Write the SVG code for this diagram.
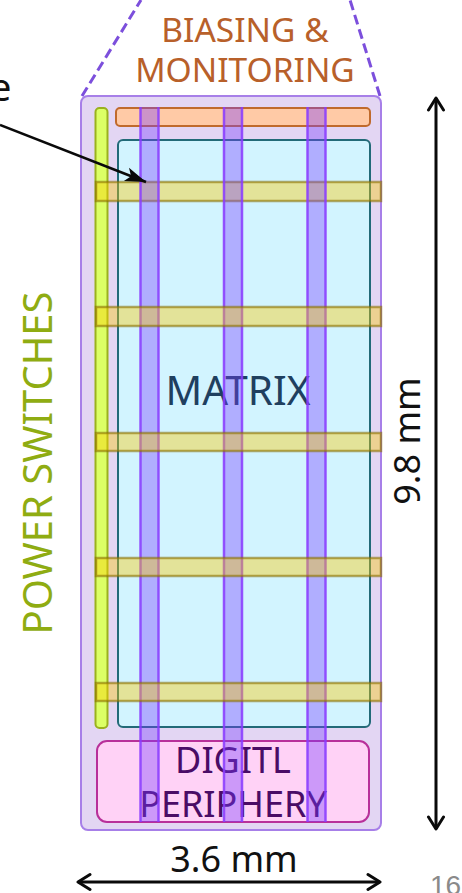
<svg xmlns="http://www.w3.org/2000/svg" width="462" height="893" viewBox="0 0 462 893">
<defs>
<marker id="open" viewBox="0 0 20 20" refX="18" refY="10" markerWidth="20" markerHeight="20" markerUnits="userSpaceOnUse" orient="auto-start-reverse"><path d="M6 2.500L18 10L6 17.500" fill="none" stroke="#0a0a0a" stroke-width="3" stroke-linecap="round" stroke-linejoin="round"/></marker>
<marker id="solid" viewBox="0 0 24 16" refX="22" refY="8" markerWidth="24" markerHeight="16" markerUnits="userSpaceOnUse" orient="auto"><path d="M1 1L22 8L1 15L6 8Z" fill="#0a0a0a"/></marker>
</defs>
<style>
text{font-family:"Noto Sans","Open Sans","DejaVu Sans",sans-serif;font-size:36px}
.hbar{fill:#fcca00;fill-opacity:.4;stroke:#8a7000;stroke-opacity:.6;stroke-width:2.500}
.vbar{fill:#7a3cff;fill-opacity:.38}
.vedge{fill:none;stroke:#8a3cff;stroke-opacity:.85;stroke-width:2.500}
.dim{fill:none;stroke:#0a0a0a;stroke-width:3}
.dash{fill:none;stroke:#7c4fdc;stroke-width:3;stroke-dasharray:10 5}
.bias{font-size:33.500px;fill:#b8602a}
.per{fill:#4a0c66}
</style>
<rect width="462" height="893" fill="#ffffff"/>
<g id="chip"><rect x="81" y="96" width="300" height="734" rx="7" fill="#e3d6f3" stroke="#a77fe8" stroke-width="2"/></g>
<g id="biasing"><rect x="116" y="108" width="254" height="18" rx="4" fill="#ffcaa6" stroke="#c06a2c" stroke-width="2"/><text class="bias" x="245" y="42" text-anchor="middle">BIASING &amp;</text><text class="bias" x="245" y="82" text-anchor="middle">MONITORING</text></g>
<g id="power-switches"><rect x="95.500" y="108" width="12" height="620" rx="4" fill="#dcff66" stroke="#9ab21e" stroke-width="2"/><text transform="translate(52,463) rotate(-90)" text-anchor="middle" fill="#8fac12" style="font-size:40px">POWER SWITCHES</text></g>
<g id="matrix"><rect x="118" y="140" width="252" height="587" rx="5" fill="#d2f4ff" stroke="#226a78" stroke-width="2"/><text x="238" y="405" text-anchor="middle" fill="#1f3f5f" style="font-size:40.500px">MATRIX</text></g>
<g id="digital-periphery"><rect x="97" y="741" width="272" height="81" rx="10" fill="#ffd2f6" stroke="#b8309a" stroke-width="2"/><text class="per" x="233" y="773" text-anchor="middle">DIGITL</text><text class="per" x="233" y="817" text-anchor="middle">PERIPHERY</text></g>
<g id="horizontal-bar-1"><rect class="hbar" x="96" y="182" width="285" height="19"/></g>
<g id="vertical-bars"><rect class="vbar" x="140" y="107" width="19" height="715"/><rect class="vbar" x="223.500" y="107" width="19" height="715"/><rect class="vbar" x="307" y="107" width="19" height="715"/><path class="vedge" d="M140.500 107V822M158.500 107V822M224 107V822M242 107V822M307.500 107V822M325.500 107V822"/></g>
<g id="horizontal-bars"><rect class="hbar" x="96" y="307" width="285" height="19"/><rect class="hbar" x="96" y="433" width="285" height="18"/><rect class="hbar" x="96" y="558" width="285" height="18"/><rect class="hbar" x="96" y="683" width="285" height="18"/></g>
<g id="connectors">
<path class="dash" d="M82 96L141 0"/><path class="dash" d="M380 96L350 0"/>
<path d="M0 125L146 182" fill="none" stroke="#0a0a0a" stroke-width="2.500" marker-end="url(#solid)"/>
<path class="dim" d="M436 98V829" marker-start="url(#open)" marker-end="url(#open)"/>
<path class="dim" d="M78 882H380" marker-start="url(#open)" marker-end="url(#open)"/>
</g>
<g id="labels"><text x="-10" y="101" fill="#111" style="font-size:38px">e</text><text transform="translate(420,441) rotate(-90)" text-anchor="middle" fill="#111">9.8 mm</text><text x="234" y="872" text-anchor="middle" fill="#111">3.6 mm</text><text x="430" y="895" style="font-size:28px;font-family:'Liberation Sans',sans-serif" fill="#8a8a8a">16</text></g>
</svg>
